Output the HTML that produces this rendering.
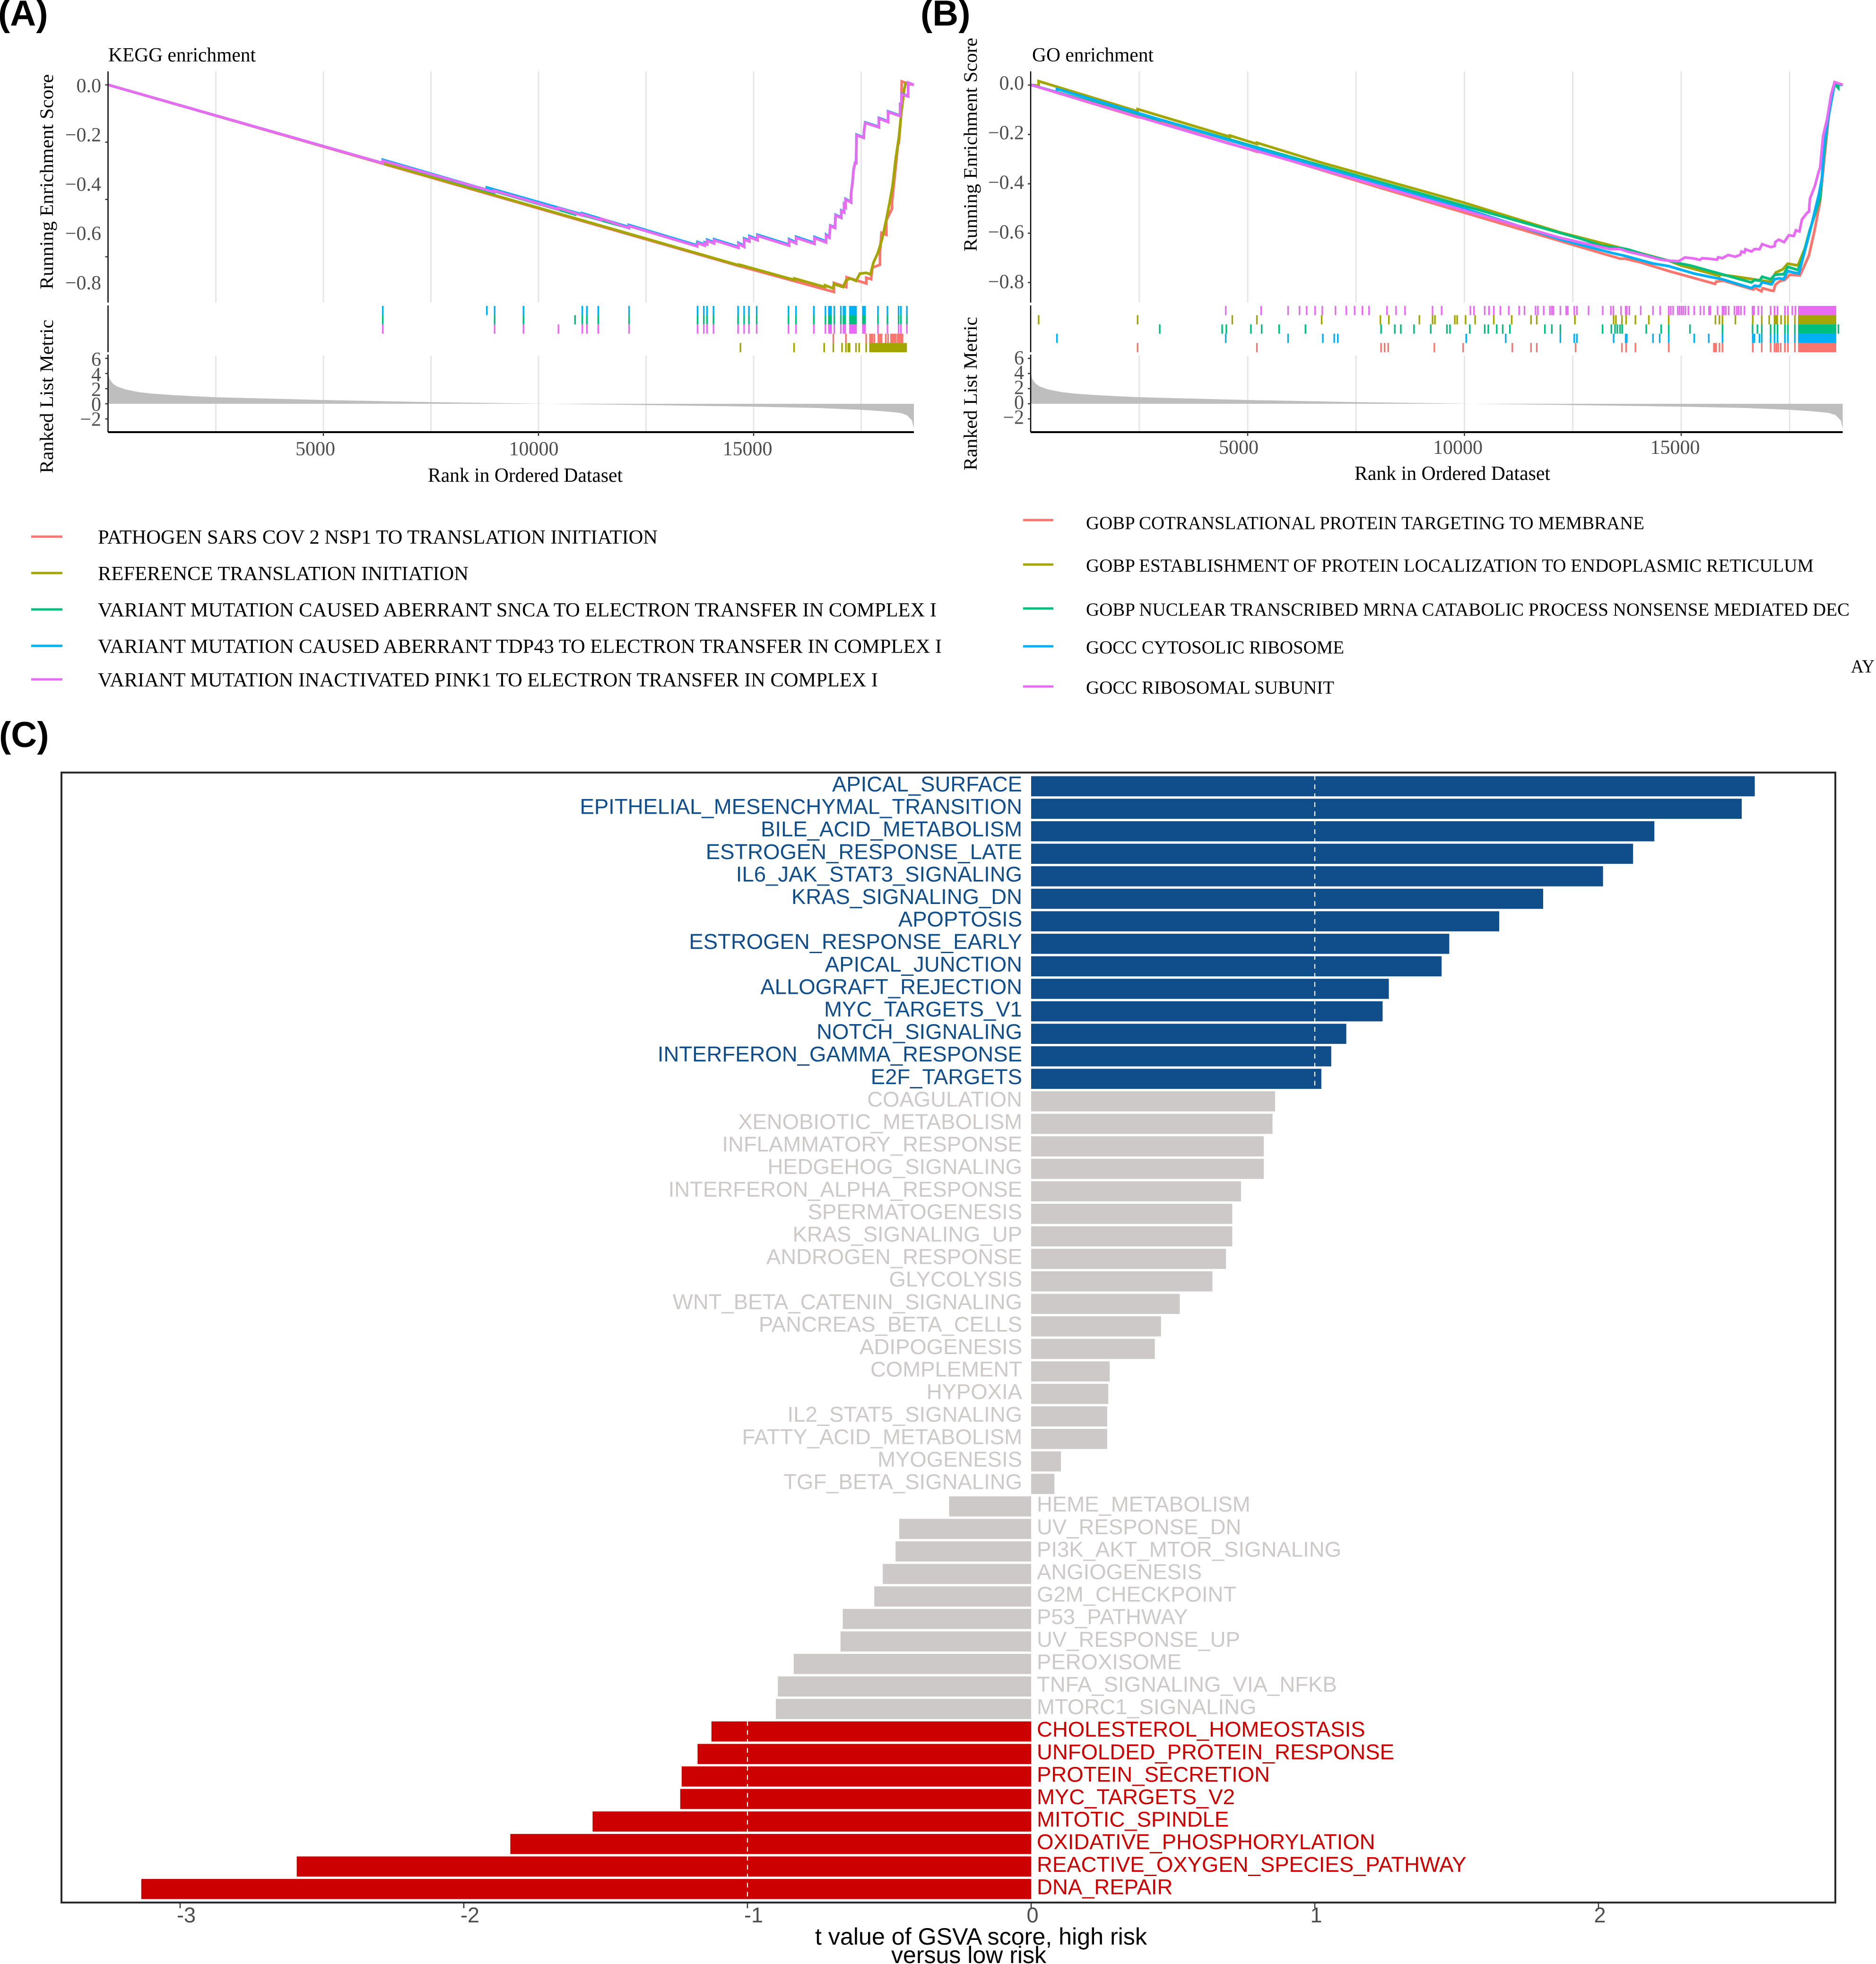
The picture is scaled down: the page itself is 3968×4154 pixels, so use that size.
<!DOCTYPE html>
<html lang="en">
<head>
<meta charset="utf-8">
<title>GSEA enrichment and GSVA score chart</title>
<style>
html,body{margin:0;padding:0;background:#fff;}
body{width:3968px;height:4154px;overflow:hidden;}
svg{display:block;}
.serif{font-family:"Liberation Serif",serif;}
.sans{font-family:"Liberation Sans",sans-serif;}
</style>
</head>
<body>
<svg id="figure" xmlns="http://www.w3.org/2000/svg" width="3968" height="4154" viewBox="0 0 3968 4154">
  <rect x="0" y="0" width="3968" height="4154" fill="#fff"/>

  <text class="sans" x="-4" y="54" font-size="76" font-weight="700" fill="#000">(A)</text>
  <text class="sans" x="1947" y="54" font-size="76" font-weight="700" fill="#000">(B)</text>
  <text class="sans" x="-2" y="1580" font-size="76" font-weight="700" fill="#000">(C)</text>

  <g id="panelA"></g>
  <g id="panelB"></g>

  <text class="serif" x="229" y="130" font-size="42" fill="#000" textLength="312" lengthAdjust="spacingAndGlyphs">KEGG enrichment</text>
  <text class="serif" x="2183" y="130" font-size="42" fill="#000" textLength="257" lengthAdjust="spacingAndGlyphs">GO enrichment</text>

  <text class="serif" transform="translate(112,612) rotate(-90)" font-size="40" fill="#000" textLength="455" lengthAdjust="spacingAndGlyphs">Running Enrichment Score</text>
  <text class="serif" transform="translate(112,1001) rotate(-90)" font-size="40" fill="#000" textLength="325" lengthAdjust="spacingAndGlyphs">Ranked List Metric</text>
  <text class="serif" x="905" y="1019" font-size="42" fill="#000" textLength="412" lengthAdjust="spacingAndGlyphs">Rank in Ordered Dataset</text>

  <text class="serif" transform="translate(2066,532) rotate(-90)" font-size="40" fill="#000" textLength="452" lengthAdjust="spacingAndGlyphs">Running Enrichment Score</text>
  <text class="serif" transform="translate(2066,995) rotate(-90)" font-size="40" fill="#000" textLength="325" lengthAdjust="spacingAndGlyphs">Ranked List Metric</text>
  <text class="serif" x="2865" y="1015" font-size="42" fill="#000" textLength="414" lengthAdjust="spacingAndGlyphs">Rank in Ordered Dataset</text>

  <g class="serif" font-size="42" fill="#000">
    <line x1="66" x2="132" y1="1135" y2="1135" stroke="#F8766D" stroke-width="5"/>
    <text x="207" y="1150" textLength="1184" lengthAdjust="spacingAndGlyphs">PATHOGEN SARS COV 2 NSP1 TO TRANSLATION INITIATION</text>
    <line x1="66" x2="132" y1="1212" y2="1212" stroke="#A3A500" stroke-width="5"/>
    <text x="207" y="1227" textLength="784" lengthAdjust="spacingAndGlyphs">REFERENCE TRANSLATION INITIATION</text>
    <line x1="66" x2="132" y1="1289" y2="1289" stroke="#00BF7D" stroke-width="5"/>
    <text x="207" y="1304" textLength="1774" lengthAdjust="spacingAndGlyphs">VARIANT MUTATION CAUSED ABERRANT SNCA TO ELECTRON TRANSFER IN COMPLEX I</text>
    <line x1="66" x2="132" y1="1366" y2="1366" stroke="#00B0F6" stroke-width="5"/>
    <text x="207" y="1381" textLength="1785" lengthAdjust="spacingAndGlyphs">VARIANT MUTATION CAUSED ABERRANT TDP43 TO ELECTRON TRANSFER IN COMPLEX I</text>
    <line x1="66" x2="132" y1="1437" y2="1437" stroke="#E76BF3" stroke-width="5"/>
    <text x="207" y="1452" textLength="1650" lengthAdjust="spacingAndGlyphs">VARIANT MUTATION INACTIVATED PINK1 TO ELECTRON TRANSFER IN COMPLEX I</text>
  </g>

  <g class="serif" font-size="39" fill="#000">
    <line x1="2164" x2="2228" y1="1100" y2="1100" stroke="#F8766D" stroke-width="5"/>
    <text x="2297" y="1119" textLength="1181" lengthAdjust="spacingAndGlyphs">GOBP COTRANSLATIONAL PROTEIN TARGETING TO MEMBRANE</text>
    <line x1="2164" x2="2228" y1="1194" y2="1194" stroke="#A3A500" stroke-width="5"/>
    <text x="2297" y="1209" textLength="1539" lengthAdjust="spacingAndGlyphs">GOBP ESTABLISHMENT OF PROTEIN LOCALIZATION TO ENDOPLASMIC RETICULUM</text>
    <line x1="2164" x2="2228" y1="1287" y2="1287" stroke="#00BF7D" stroke-width="5"/>
    <text x="2297" y="1302" textLength="1615" lengthAdjust="spacingAndGlyphs">GOBP NUCLEAR TRANSCRIBED MRNA CATABOLIC PROCESS NONSENSE MEDIATED DEC</text>
    <line x1="2164" x2="2228" y1="1367" y2="1367" stroke="#00B0F6" stroke-width="5"/>
    <text x="2297" y="1382" textLength="546" lengthAdjust="spacingAndGlyphs">GOCC CYTOSOLIC RIBOSOME</text>
    <line x1="2164" x2="2228" y1="1452" y2="1452" stroke="#E76BF3" stroke-width="5"/>
    <text x="2297" y="1467" textLength="525" lengthAdjust="spacingAndGlyphs">GOCC RIBOSOMAL SUBUNIT</text>
    <text x="3915" y="1422" textLength="50" lengthAdjust="spacingAndGlyphs">AY</text>
  </g>

  <g id="panelC"></g>
  <rect x="130" y="1634" width="3752" height="2390" fill="none" stroke="#2b2b2b" stroke-width="4"/>
  <text class="sans" x="1724" y="4113" font-size="50" fill="#000" textLength="702" lengthAdjust="spacingAndGlyphs">t value of GSVA score, high risk</text>
  <text class="sans" x="1885" y="4152" font-size="50" fill="#000" textLength="328" lengthAdjust="spacingAndGlyphs">versus low risk</text>
</svg>

<script>
/* ---------- shared GSEA axis data ---------- */
const rankTicks = [5000, 10000, 15000];
const rankGrid = [2500, 5000, 7500, 10000, 12500, 15000, 17500];
const esTicks = [0, -0.2, -0.4, -0.6, -0.8];
const metricTicks = [6, 4, 2, 0, -2];
const metricRanks = [1, 30, 100, 200, 400, 700, 1000, 1500, 2000, 2500, 3500, 5000, 7500, 10000, 12500, 15000, 16500, 17500, 18000, 18400, 18560, 18680, 18725];
const metricValues = [3.9, 3.3, 2.7, 2.3, 1.9, 1.55, 1.35, 1.15, 1.0, 0.87, 0.72, 0.5, 0.22, 0.02, -0.17, -0.38, -0.56, -0.8, -0.98, -1.2, -1.5, -2.2, -3.3];

/* ---------- KEGG running scores [rank, score] ---------- */
const keggRed = [[1,0],[14600,-.735],[16866,-.844],[16866,-.807],[17152,-.824],[17161,-.784],[17618,-.809],[17618,-.786],[17731,-.792],[17760,-.745],[17937,-.733],[17937,-.683],[17971,-.603],[18085,-.611],[18085,-.553],[18218,-.504],[18218,-.477],[18355,-.245],[18375,-.238],[18428,-.125],[18443,.014],[18591,.004],[18723,0]];
const keggOlive = [[1,0],[6380,-.319],[11773,-.59],[14671,-.736],[14671,-.733],[15948,-.795],[15948,-.789],[16660,-.824],[16660,-.817],[16842,-.829],[16866,-.812],[17078,-.824],[17152,-.796],[17250,-.789],[17382,-.799],[17470,-.769],[17616,-.766],[17714,-.772],[17788,-.723],[17886,-.686],[17984,-.63],[18082,-.55],[18156,-.484],[18230,-.411],[18304,-.298],[18378,-.212],[18427,-.125],[18500,-.019],[18540,.012]];
const keggGreen = [[1,0],[6380,-.319],[6380,-.309],[8970,-.44],[8970,-.433],[10850,-.528],[10850,-.522],[12100,-.583],[12100,-.575],[13689,-.658],[13689,-.644],[13861,-.655],[13861,-.646],[13920,-.65],[13920,-.635],[14082,-.646],[14082,-.633],[14647,-.664],[14647,-.648],[14779,-.66],[14779,-.63],[14902,-.638],[14902,-.62],[15089,-.633],[15089,-.615],[15825,-.655],[15825,-.633],[15987,-.646],[15987,-.623],[16415,-.648],[16415,-.624],[16685,-.642],[16685,-.615],[16759,-.623],[16783,-.575],[16891,-.583],[16906,-.532],[17039,-.542],[17039,-.514],[17103,-.52],[17103,-.49],[17137,-.497],[17137,-.467],[17265,-.479],[17265,-.444],[17299,-.398],[17324,-.345],[17358,-.319],[17383,-.319],[17392,-.205],[17559,-.216],[17569,-.185],[17594,-.155],[17913,-.173],[17913,-.137],[18124,-.151],[18124,-.11],[18404,-.127],[18404,-.079],[18438,-.076],[18438,-.039],[18591,-.047],[18591,.009],[18723,0]];
const keggBlue = [[1,0],[6380,-.319],[6380,-.305],[8800,-.428],[8800,-.418],[11010,-.528],[11010,-.523],[12100,-.579],[12100,-.571],[13689,-.654],[13699,-.64],[13861,-.651],[13861,-.642],[13920,-.646],[13920,-.631],[14082,-.642],[14082,-.629],[14647,-.66],[14647,-.644],[14779,-.656],[14779,-.626],[14902,-.634],[14902,-.616],[15089,-.629],[15089,-.611],[15825,-.651],[15825,-.629],[15987,-.642],[15987,-.619],[16415,-.644],[16415,-.62],[16685,-.638],[16685,-.611],[16759,-.62],[16783,-.573],[16891,-.581],[16906,-.53],[17039,-.54],[17039,-.512],[17103,-.518],[17103,-.488],[17137,-.495],[17137,-.465],[17265,-.477],[17265,-.442],[17299,-.396],[17324,-.343],[17358,-.317],[17383,-.317],[17392,-.203],[17559,-.214],[17569,-.183],[17594,-.153],[17913,-.171],[17913,-.135],[18124,-.149],[18124,-.108],[18404,-.125],[18404,-.077],[18438,-.074],[18438,-.037],[18591,-.045],[18591,.009],[18723,0]];
const keggMagenta = [[1,0],[6380,-.319],[6380,-.309],[8970,-.437],[8970,-.431],[10463,-.507],[10463,-.502],[11010,-.532],[11010,-.527],[11450,-.55],[11450,-.545],[12092,-.583],[12107,-.575],[13689,-.658],[13699,-.644],[13861,-.655],[13861,-.646],[13920,-.65],[13920,-.635],[14082,-.646],[14082,-.633],[14647,-.664],[14647,-.648],[14779,-.66],[14779,-.63],[14902,-.638],[14902,-.62],[15089,-.633],[15089,-.615],[15825,-.655],[15825,-.633],[15987,-.646],[15987,-.623],[16415,-.648],[16415,-.624],[16685,-.642],[16685,-.615],[16759,-.623],[16783,-.575],[16891,-.583],[16906,-.532],[17039,-.542],[17039,-.514],[17103,-.52],[17103,-.49],[17137,-.497],[17137,-.467],[17265,-.479],[17265,-.444],[17299,-.398],[17324,-.345],[17358,-.319],[17383,-.319],[17392,-.205],[17559,-.216],[17569,-.185],[17594,-.155],[17913,-.173],[17913,-.137],[18124,-.151],[18124,-.11],[18404,-.127],[18404,-.079],[18438,-.076],[18438,-.039],[18591,-.047],[18591,.009],[18723,0]];

/* ---------- KEGG gene-set hits (ranks) ---------- */
const keggSharedHits = [6380,8980,9650,11018,11124,11388,12105,13697,13843,13916,14067,14639,14779,14891,15071,15811,15985,16399,16669,16750,16780,16800,16876,17027,17089,17128,17240,17270,17300,17330,17360,17380,17540,17565,17590,17890,18110,18370,18423,18563];
const keggBlueExtra = [8800];
const keggGreenExtra = [10850];
const keggMagentaExtra = [10463];
const keggRedHits = [16853,17145,17616,17705,17735,17760,17806,17900,17930,17960,17975,18070,18126,18193,18220,18250,18280,18305,18350,18380,18410,18440,18460];
const keggOliveHits = [14695,15940,16640,16853,17055,17145,17200,17230,17380,17453,17616,17705,17735,17765,17795,17825,17855,17885,17915,17945,17975,18005,18035,18065,18095,18125,18155,18185,18215,18245,18275,18305,18335,18365,18395,18425,18455,18485,18515,18545];

/* ---------- GO running scores [rank, score] ---------- */
const goRed = [[1,0],[2460,-.13],[2460,-.124],[5210,-.27],[5210,-.265],[8050,-.416],[9350,-.483],[12197,-.631],[12523,-.648],[13594,-.703],[13700,-.703],[14043,-.717],[14711,-.753],[15782,-.805],[15805,-.796],[15968,-.792],[16666,-.828],[16690,-.82],[16852,-.835],[16876,-.822],[17076,-.832],[17132,-.833],[17169,-.809],[17271,-.794],[17388,-.789],[17504,-.768],[17737,-.771],[17830,-.736],[17946,-.69],[18072,-.592],[18203,-.473],[18295,-.309],[18412,-.111],[18538,.011],[18723,0]];
const goOlive = [[1,0],[179,-.003],[179,.015],[2461,-.107],[2461,-.098],[4590,-.21],[4590,-.205],[5213,-.239],[5213,-.234],[6734,-.316],[9984,-.476],[12197,-.596],[13641,-.661],[14711,-.711],[14990,-.73],[15875,-.772],[15875,-.767],[16247,-.775],[17062,-.797],[17178,-.759],[17341,-.746],[17457,-.723],[17690,-.73],[17853,-.661],[17969,-.585],[18203,-.46],[18295,-.276],[18389,-.131],[18505,-.026],[18538,.004]];
const goGreen = [[1,0],[2972,-.146],[2972,-.14],[6000,-.292],[9000,-.44],[12197,-.598],[12663,-.621],[13175,-.651],[13641,-.661],[13803,-.667],[14199,-.689],[14711,-.711],[14990,-.723],[15200,-.73],[15921,-.765],[16620,-.799],[16690,-.789],[16806,-.792],[16866,-.776],[17062,-.786],[17155,-.769],[17271,-.766],[17364,-.766],[17457,-.736],[17644,-.746],[17690,-.749],[17783,-.71],[17969,-.585],[18203,-.46],[18295,-.276],[18389,-.131],[18505,-.026],[18538,.004],[18621,-.012],[18621,0],[18723,0]];
const goBlue = [[1,0],[600,-.03],[600,-.016],[4500,-.22],[7000,-.348],[10000,-.5],[12197,-.624],[12547,-.641],[13408,-.68],[13710,-.692],[14339,-.722],[14711,-.733],[15293,-.763],[15642,-.776],[15945,-.786],[16620,-.822],[16690,-.812],[16806,-.815],[16866,-.798],[17085,-.807],[17155,-.786],[17262,-.782],[17364,-.786],[17457,-.753],[17597,-.759],[17713,-.763],[17783,-.717],[17969,-.592],[18179,-.44],[18249,-.374],[18295,-.243],[18389,-.138],[18505,-.026],[18538,.004]];
const goMagenta = [[1,0],[4460,-.232],[5400,-.277],[7000,-.357],[9000,-.458],[10500,-.533],[12197,-.618],[13175,-.657],[13361,-.664],[13594,-.664],[13757,-.674],[14153,-.69],[14525,-.707],[14711,-.711],[14944,-.713],[15084,-.698],[15293,-.702],[15433,-.708],[15479,-.701],[15642,-.703],[15828,-.707],[15852,-.697],[15945,-.701],[16084,-.688],[16247,-.695],[16364,-.687],[16387,-.674],[16457,-.678],[16480,-.665],[16620,-.674],[16690,-.664],[16806,-.665],[16866,-.644],[17062,-.656],[17155,-.652],[17169,-.636],[17248,-.626],[17374,-.636],[17481,-.608],[17597,-.611],[17644,-.588],[17727,-.593],[17783,-.545],[17900,-.518],[17946,-.513],[17969,-.46],[18086,-.407],[18156,-.361],[18203,-.335],[18272,-.207],[18365,-.138],[18458,-.039],[18538,.011],[18728,0]];

/* ---------- GO gene-set hits (ranks) ---------- */
const goDenseHits = [17713,17743,17770,17800,17830,17860,17885,17915,17945,17975,18005,18030,18060,18090,18120,18150,18180,18210,18240,18270,18300,18330,18360,18390,18420,18450,18480,18510,18535,18557];
const goMagentaHits = [4494,5310,5932,6195,6361,6555,6721,7025,7274,7467,7647,7799,8214,8422,8629,9265,9473,10137,10220,10468,10565,10676,10828,11022,11262,11385,11641,11695,11828,11972,12015,12053,12213,12346,12384,12533,12592,12864,13190,13377,13436,13612,13719,13745,13804,14066,14349,14514,14712,14760,14813,14920,14963,15006,15048,15096,15166,15299,15443,15524,15641,15673,15839,15951,15988,16031,16095,16228,16282,16325,16378,16458,16645,16682,16778,16858,17061,17152,17221,17392,17462,17563,17633];
const goOliveHits = [179,2461,4646,5213,6707,8062,8256,8961,9265,9320,9777,9832,10026,10247,10676,11091,11535,11668,12549,13441,13494,13633,13729,13943,14253,14712,15790,15881,15951,16250,16650,16858,17029,17152,17180,17215,17302,17392,17462,17622];
const goGreenHits = [2972,4411,4508,5075,5324,5725,6333,8076,8394,8532,8836,9223,9597,9666,10123,10468,10551,10745,10883,11049,11855,12015,12213,13185,13388,13473,13526,13590,13638,14194,14536,14712,15203,15951,16645,16757,16858,17061,17152,17221,17392,17462,17622,18626];
const goBlueHits = [600,4494,5932,6734,6997,7080,10040,10952,12213,12533,12592,13441,13719,13745,14349,14504,14712,15299,15636,15951,16650,16688,16805,16858,17061,17152,17221,17392,17462,17622];
const goRedHits = [2461,5213,8076,8159,8242,9306,9970,11105,11535,11668,12565,13633,13729,13943,14712,15753,15780,15806,15881,15951,16650,16858,17061,17152,17195,17238,17296,17392,17462,17622];

/* ---------- GSVA bars ---------- */
const pathways = ["APICAL_SURFACE","EPITHELIAL_MESENCHYMAL_TRANSITION","BILE_ACID_METABOLISM","ESTROGEN_RESPONSE_LATE","IL6_JAK_STAT3_SIGNALING","KRAS_SIGNALING_DN","APOPTOSIS","ESTROGEN_RESPONSE_EARLY","APICAL_JUNCTION","ALLOGRAFT_REJECTION","MYC_TARGETS_V1","NOTCH_SIGNALING","INTERFERON_GAMMA_RESPONSE","E2F_TARGETS","COAGULATION","XENOBIOTIC_METABOLISM","INFLAMMATORY_RESPONSE","HEDGEHOG_SIGNALING","INTERFERON_ALPHA_RESPONSE","SPERMATOGENESIS","KRAS_SIGNALING_UP","ANDROGEN_RESPONSE","GLYCOLYSIS","WNT_BETA_CATENIN_SIGNALING","PANCREAS_BETA_CELLS","ADIPOGENESIS","COMPLEMENT","HYPOXIA","IL2_STAT5_SIGNALING","FATTY_ACID_METABOLISM","MYOGENESIS","TGF_BETA_SIGNALING","HEME_METABOLISM","UV_RESPONSE_DN","PI3K_AKT_MTOR_SIGNALING","ANGIOGENESIS","G2M_CHECKPOINT","P53_PATHWAY","UV_RESPONSE_UP","PEROXISOME","TNFA_SIGNALING_VIA_NFKB","MTORC1_SIGNALING","CHOLESTEROL_HOMEOSTASIS","UNFOLDED_PROTEIN_RESPONSE","PROTEIN_SECRETION","MYC_TARGETS_V2","MITOTIC_SPINDLE","OXIDATIVE_PHOSPHORYLATION","REACTIVE_OXYGEN_SPECIES_PATHWAY","DNA_REPAIR"];
const tValues = [2.551,2.505,2.197,2.122,2.016,1.805,1.65,1.474,1.447,1.261,1.239,1.111,1.058,1.023,.86,.851,.82,.82,.74,.709,.709,.687,.639,.524,.458,.436,.277,.272,.268,.268,.105,.082,-.289,-.465,-.478,-.523,-.553,-.664,-.672,-.837,-.893,-.9,-1.127,-1.176,-1.232,-1.237,-1.546,-1.836,-2.589,-3.137];
const tTicks = [-3,-2,-1,0,1,2];
const tThresholds = [-1,1];

/* ---------- drawing ---------- */
const NS = 'http://www.w3.org/2000/svg';
function make(parent, tag, attrs, text) {
  const el = document.createElementNS(NS, tag);
  for (const k in attrs) el.setAttribute(k, attrs[k]);
  if (text !== undefined) el.textContent = text;
  parent.appendChild(el);
  return el;
}
function minusLabel(v, digits) {
  const s = Math.abs(v).toFixed(digits);
  return (v < 0 ? '\u2212' : '') + s;
}

function drawGsea(root, cfg) {
  const xr = r => cfg.x0 + cfg.xk * r;
  const ye = v => cfg.y0 - cfg.yk * v;
  const ym = v => 854 - 16 * v;
  const right = xr(18725);

  rankGrid.forEach(r => {
    const g1 = make(root, 'line', {x1:xr(r), x2:xr(r), y1:151, y2:640, stroke:'#E6E6E6', 'stroke-width':3});
    
    
    const g2 = make(root, 'line', {x1:xr(r), x2:xr(r), y1:752, y2:912, stroke:'#E6E6E6', 'stroke-width':3});
    
    
  });

  /* ranked metric area */
  let d = 'M' + xr(metricRanks[0]) + ' ' + ym(0);
  metricRanks.forEach((r, i) => { d += 'L' + xr(r).toFixed(1) + ' ' + ym(metricValues[i]).toFixed(1); });
  d += 'L' + xr(metricRanks[metricRanks.length - 1]) + ' ' + ym(0) + 'Z';
  const area = make(root, 'path', {d:d, fill:'#BEBEBE'});
  
  

  /* rug rows */
  cfg.rug.forEach((row, i) => {
    const yTop = 647 + i * 19.6;
    row.hits.forEach(r => {
      const m = make(root, 'rect', {x:(xr(r) - 1.7).toFixed(1), y:yTop, width:3.4, height:19.6, fill:row.color});
      
      
    });
  });

  /* running score lines */
  cfg.lines.forEach(s => {
    const pts = s.data.map(p => xr(p[0]).toFixed(1) + ',' + ye(p[1]).toFixed(1)).join(' ');
    const pl = make(root, 'polyline', {points:pts, fill:'none', stroke:s.color, 'stroke-width':5.6, 'stroke-linejoin':'miter'});
    
    
  });

  /* axes */
  const ax = cfg.x0 - 0.5;
  const l1 = make(root, 'line', {x1:ax, x2:ax, y1:151, y2:640, stroke:'#000', 'stroke-width':2.5});
  
  
  const l2 = make(root, 'line', {x1:ax, x2:ax, y1:646, y2:745, stroke:'#000', 'stroke-width':2.5});
  
  
  const l3 = make(root, 'line', {x1:ax, x2:ax, y1:750, y2:914, stroke:'#000', 'stroke-width':2.5});
  
  
  const l4 = make(root, 'line', {x1:ax, x2:right, y1:914, y2:914, stroke:'#000', 'stroke-width':4});
  
  

  /* x ticks */
  rankTicks.forEach((r, i) => {
    const t = make(root, 'line', {x1:xr(r), x2:xr(r), y1:914, y2:922, stroke:'#333', 'stroke-width':2.5});
    
    
    const lb = make(root, 'text', {x:xr(r) + cfg.xLabelShift[i], y:cfg.xLabelY, 'text-anchor':'middle', 'font-family':'"Liberation Serif",serif', 'font-size':42, fill:'#4D4D4D'}, String(r));
    
    
  });

  /* running score ticks */
  esTicks.forEach(v => {
    const yT = cfg.tickY0 - cfg.tickK * v;
    if (yT < 640) {
      const t = make(root, 'line', {x1:ax - 6, x2:ax, y1:yT, y2:yT, stroke:'#333', 'stroke-width':2.5});
      
      
    }
    const lb = make(root, 'text', {x:cfg.labelRight, y:(cfg.labelY0 - cfg.labelK * v + 14).toFixed(1), 'text-anchor':'end', 'font-family':'"Liberation Serif",serif', 'font-size':42, fill:'#4D4D4D'}, minusLabel(v, 1));
    
    
  });

  /* metric ticks */
  metricTicks.forEach(v => {
    const t = make(root, 'line', {x1:ax - 6, x2:ax, y1:ym(v), y2:ym(v), stroke:'#333', 'stroke-width':2.5});
    
    
    const lb = make(root, 'text', {x:cfg.labelRight, y:(cfg.metricLabelY0 - cfg.metricLabelK * v + 14).toFixed(1), 'text-anchor':'end', 'font-family':'"Liberation Serif",serif', 'font-size':42, fill:'#4D4D4D'}, minusLabel(v, 0));
    
    
  });
}

drawGsea(document.getElementById('panelA'), {
  x0:229, xk:0.091, y0:179.5, yk:519,
  tickY0:179.5, tickK:606,
  labelY0:181, labelK:521, labelRight:214,
  metricLabelY0:855, metricLabelK:15.8,
  xLabelY:963, xLabelShift:[-17,-10,-13],
  rug:[
    {color:'#00B0F6', hits:keggSharedHits.concat(keggBlueExtra)},
    {color:'#00BF7D', hits:keggSharedHits.concat(keggGreenExtra)},
    {color:'#E76BF3', hits:keggSharedHits.concat(keggMagentaExtra)},
    {color:'#F8766D', hits:keggRedHits},
    {color:'#A3A500', hits:keggOliveHits}
  ],
  lines:[
    {color:'#F8766D', data:keggRed},
    {color:'#A3A500', data:keggOlive},
    {color:'#00BF7D', data:keggGreen},
    {color:'#00B0F6', data:keggBlue},
    {color:'#E76BF3', data:keggMagenta}
  ]
});

drawGsea(document.getElementById('panelB'), {
  x0:2180.5, xk:0.0917, y0:179.5, yk:523,
  tickY0:180, tickK:522,
  labelY0:175.5, labelK:525, labelRight:2166,
  metricLabelY0:851, metricLabelK:15.7,
  xLabelY:960, xLabelShift:[-19,-14,-13],
  rug:[
    {color:'#E76BF3', hits:goMagentaHits.concat(goDenseHits)},
    {color:'#A3A500', hits:goOliveHits.concat(goDenseHits)},
    {color:'#00BF7D', hits:goGreenHits.concat(goDenseHits)},
    {color:'#00B0F6', hits:goBlueHits.concat(goDenseHits)},
    {color:'#F8766D', hits:goRedHits.concat(goDenseHits)}
  ],
  lines:[
    {color:'#F8766D', data:goRed},
    {color:'#A3A500', data:goOlive},
    {color:'#00BF7D', data:goGreen},
    {color:'#00B0F6', data:goBlue},
    {color:'#E76BF3', data:goMagenta}
  ]
});

(function drawBars() {
  const root = document.getElementById('panelC');
  const xv = v => 2181 + 600 * v;
  const yc = i => 1663 + 47.6 * i;
  const colorOf = v => v >= 1 ? '#104E8B' : (v <= -1 ? '#CD0000' : '#CDC9C9');

  pathways.forEach((name, i) => {
    const v = tValues[i];
    const c = colorOf(v);
    const bar = make(root, 'rect', {x:Math.min(xv(0), xv(v)).toFixed(1), y:(yc(i) - 21.3).toFixed(1), width:Math.abs(xv(v) - xv(0)).toFixed(1), height:42.6, fill:c});
    
    
    const lb = make(root, 'text', {x:v >= 0 ? 2162 : 2193, y:(yc(i) + 11).toFixed(1), 'text-anchor':v >= 0 ? 'end' : 'start', 'font-family':'"Liberation Sans",sans-serif', 'font-size':45.5, fill:c}, name);
    
    
  });

  tThresholds.forEach(v => {
    const top = v > 0 ? 1640 : yc(pathways.length - 8) - 22;
    const bottom = v > 0 ? yc(13) + 22 : 4022;
    const line = make(root, 'line', {x1:xv(v), x2:xv(v), y1:top, y2:bottom, stroke:'#fff', 'stroke-width':2.2, 'stroke-dasharray':'10 9'});
    
    
  });

  tTicks.forEach(v => {
    const t = make(root, 'line', {x1:xv(v), x2:xv(v), y1:4024, y2:4036, stroke:'#333', 'stroke-width':2.5});
    
    
    const lb = make(root, 'text', {x:xv(v) + (v < 0 ? 13 : 3), y:4066, 'text-anchor':'middle', 'font-family':'"Liberation Sans",sans-serif', 'font-size':45, fill:'#4D4D4D'}, String(v));
    
    
  });
})();
</script>
</body>
</html>
